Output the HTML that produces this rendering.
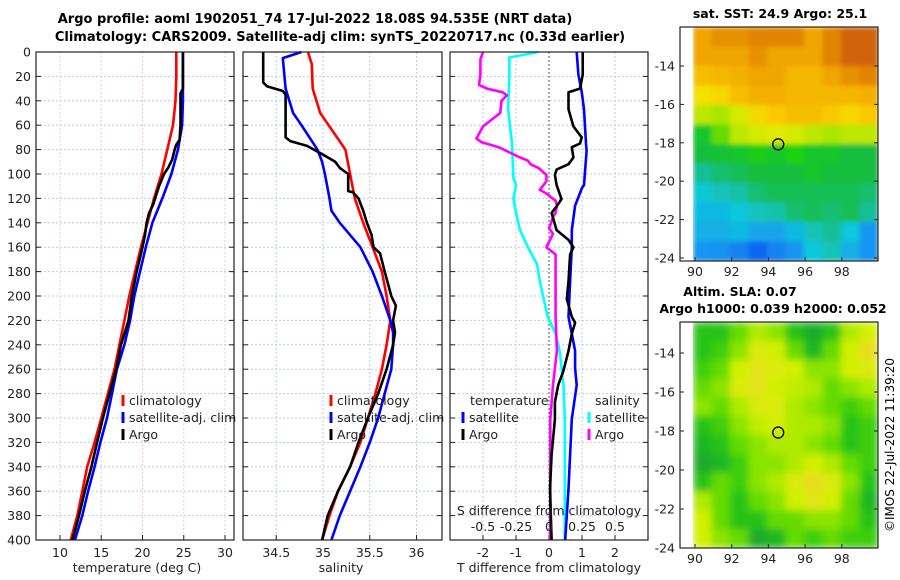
<!DOCTYPE html>
<html><head><meta charset="utf-8">
<style>
body{margin:0;background:#fff;width:900px;height:580px;overflow:hidden}
svg{display:block;font-family:"DejaVu Sans","Liberation Sans",sans-serif}
</style></head>
<body>
<svg id="c" width="900" height="580" viewBox="0 0 900 580">
<defs><filter id="blur" x="0" y="0" width="1" height="1"><feGaussianBlur stdDeviation="4"/></filter>
<filter id="blurA" x="0" y="0" width="1" height="1"><feGaussianBlur stdDeviation="2.5"/></filter>
<clipPath id="clipB"><rect x="693" y="322" width="185" height="226"/></clipPath>
<clipPath id="clipA"><rect x="693" y="27" width="185" height="234"/></clipPath></defs>
<text x="315" y="23" text-anchor="middle" font-size="13" font-weight="bold">Argo profile: aoml 1902051_74 17-Jul-2022 18.08S 94.535E (NRT data)</text>
<text x="340" y="41" text-anchor="middle" font-size="13" font-weight="bold">Climatology: CARS2009. Satellite-adj clim: synTS_20220717.nc (0.33d earlier)</text>
<text x="780" y="18" text-anchor="middle" font-size="12.5" font-weight="bold">sat. SST: 24.9 Argo: 25.1</text>
<text x="740" y="296" text-anchor="middle" font-size="12.5" font-weight="bold">Altim. SLA: 0.07</text>
<text x="773" y="313" text-anchor="middle" font-size="12.5" font-weight="bold">Argo h1000: 0.039 h2000: 0.052</text>
<text transform="translate(894,445) rotate(-90)" text-anchor="middle" font-size="12">©IMOS 22-Jul-2022 11:39:20</text>
<g id="g"></g>
</svg>
<script>
// ---- profile data ----
const depthStd=[0,20,40,60,80,100,120,140,160,180,200,220,240,260,280,300,320,340,360,380,400];
const tempClim=[24.1,24.1,24.0,23.7,23.0,22.3,21.4,20.6,19.8,19.1,18.4,17.8,17.2,16.6,15.8,15.0,14.2,13.3,12.7,12.1,11.3];
const tempSat=[24.9,24.9,24.9,24.8,24.3,23.5,22.4,21.2,20.4,19.7,19.0,18.5,17.8,16.9,16.3,15.7,14.9,14.2,13.4,12.7,11.8];
const depthArgo=[0,10,20,30,34,40,60,72,76,80,88,95,100,110,125,132,140,150,160,180,200,220,240,260,280,300,320,340,360,380,400];
const tempArgo=[24.9,24.9,24.9,24.9,24.6,24.6,24.6,24.5,24.1,23.9,23.6,23.1,22.6,22.0,21.3,20.8,20.5,20.3,20.0,19.3,18.7,18.3,17.4,16.8,16.0,15.2,14.5,13.8,13.0,12.3,11.5];
const depthSalClim=[0,10,30,50,70,80,100,120,140,160,180,200,220,240,260,280,300,320,340,360,380,400];
const salClim=[34.84,34.88,34.89,34.97,35.15,35.24,35.29,35.34,35.43,35.53,35.63,35.68,35.72,35.68,35.63,35.56,35.48,35.40,35.29,35.16,35.07,34.99];
const depthSalSat=[0,5,30,50,60,80,90,100,120,130,140,160,180,200,220,230,240,260,280,300,320,340,360,380,400];
const salSat=[34.77,34.57,34.60,34.68,34.77,34.94,34.99,35.02,35.07,35.09,35.18,35.40,35.53,35.63,35.72,35.75,35.75,35.73,35.66,35.59,35.50,35.40,35.29,35.18,35.09];
const depthSalArgo=[0,25,28,32,35,70,73,77,85,90,95,100,114,115,120,130,140,150,160,165,180,200,208,220,230,240,260,280,300,320,340,360,380,400];
const salArgo=[34.36,34.36,34.40,34.57,34.60,34.60,34.65,34.83,35.02,35.13,35.18,35.27,35.27,35.32,35.38,35.43,35.47,35.52,35.54,35.61,35.66,35.73,35.78,35.75,35.77,35.75,35.68,35.59,35.48,35.38,35.29,35.16,35.05,34.99];
// difference panel
const depthTSatDiff=[0,18.7,32.6,47,75,81,109,112,126,146,160,188,217,231,245,259,273,301,330,358,400];
const tSatDiff=[0.84,0.89,0.99,1.06,1.12,1.14,1.06,0.99,0.79,0.69,0.69,0.64,0.59,0.69,0.79,0.79,0.84,0.69,0.64,0.59,0.49];
const depthTArgoDiff=[0,18.7,30,33,47,61,70,75,78,86.5,92,96.4,100.7,109,120.5,124.7,132,146,154,160,166,188,202.5,217,222,231,245,262,273,287,301,330,358,400];
const tArgoDiff=[1.02,1.02,0.94,0.59,0.59,0.74,0.99,0.94,0.69,0.74,0.59,0.23,0.18,0.23,0.38,0.28,0.08,0.23,0.59,0.74,0.64,0.59,0.54,0.69,0.79,0.69,0.59,0.43,0.28,0.18,0.18,0.08,0.03,0.08];
const depthSSatDiff=[0,4.5,18.7,47,75,103.5,109,120,132,146,160,174,188,202.5,217,231,245,273,301,400];
const sSatDiff=[-0.08,-0.30,-0.30,-0.31,-0.28,-0.27,-0.25,-0.27,-0.25,-0.22,-0.16,-0.09,-0.07,-0.04,-0.01,0.05,0.08,0.11,0.12,0.12];
const depthSArgoDiff=[0,6,18.7,27,30,33,35.6,40,50,61,71,74,78,86.5,89,92,95,100.7,106,113,116,122,126,132,135,142,144.5,149,160,166,188,217,245,273,301,330,358,400];
const sArgoDiff=[-0.50,-0.52,-0.52,-0.53,-0.47,-0.35,-0.32,-0.36,-0.37,-0.50,-0.55,-0.51,-0.38,-0.22,-0.16,-0.14,-0.08,-0.02,-0.02,-0.07,-0.02,0.05,0.06,0.05,0.03,0.01,0.0,0.03,-0.02,0.05,0.05,0.05,0.06,0.03,0.01,0.01,0.01,0.01];
const depthTicks=[0,20,40,60,80,100,120,140,160,180,200,220,240,260,280,300,320,340,360,380,400];
const tempTicks=[10,15,20,25,30];
const salTicks=[34.5,35,35.5,36];
const tDiffTicks=[-2,-1,0,1,2];
const sDiffTicks=["-0.5","-0.25","0","0.25","0.5"];
const sDiffTickVals=[-0.5,-0.25,0,0.25,0.5];
// ---- map data (rows north→south, cols 90→100E) ----
const sstGrid=[
[.85,.88,.88,.90,.90,.90,.85,.90,.95,.95],
[.85,.85,.85,.88,.85,.85,.85,.90,.95,.95],
[.78,.80,.82,.85,.85,.80,.80,.85,.88,.90],
[.70,.72,.78,.82,.82,.80,.80,.80,.80,.82],
[.62,.60,.65,.72,.75,.78,.78,.75,.72,.75],
[.45,.55,.62,.65,.66,.65,.62,.60,.62,.62],
[.42,.43,.45,.48,.45,.50,.45,.45,.42,.42],
[.35,.38,.40,.42,.42,.42,.45,.42,.42,.42],
[.26,.30,.33,.38,.40,.40,.40,.40,.40,.38],
[.22,.22,.25,.30,.32,.38,.40,.38,.40,.35],
[.20,.20,.22,.18,.18,.22,.30,.35,.25,.15],
[.15,.14,.10,.03,.10,.15,.25,.30,.20,.15]];
const slaGrid=[
[.30,.30,.50,.70,.60,.30,.10,.30,.70,.80],
[.30,.40,.60,.85,.80,.50,.20,.50,.80,.95],
[.40,.50,.80,.90,.85,.80,.60,.60,.80,.85],
[.50,.60,.85,.90,.80,.75,.70,.50,.60,.70],
[.60,.50,.70,.85,.85,.70,.60,.50,.40,.50],
[.30,.40,.60,.75,.80,.70,.70,.60,.30,.40],
[.20,.30,.50,.60,.70,.70,.60,.50,.30,.40],
[.10,.20,.40,.60,.60,.70,.80,.70,.50,.40],
[.30,.50,.40,.60,.70,.85,.95,.85,.60,.30],
[.70,.50,.30,.50,.60,.80,.90,.80,.50,.20],
[.80,.50,.30,.30,.50,.50,.60,.60,.50,.30],
[.80,.60,.50,.10,.20,.50,.40,.50,.40,.40]];
const lonTicks=[90,92,94,96,98];
const latTicks=[-14,-16,-18,-20,-22,-24];
const argoLon=94.535, argoLat=-18.08;

const NS="http://www.w3.org/2000/svg";
const G=document.getElementById('g');
function mk(tag,attrs,parent){const e=document.createElementNS(NS,tag);for(const k in attrs)e.setAttribute(k,attrs[k]);(parent||G).appendChild(e);return e;}
const yD=d=>52+d*1.22;
const panels=[
 {x0:36,x1:234,sx:v=>60+(v-10)*8.25},
 {x0:243,x1:442,sx:v=>323+(v-35)*93.5},
 {x0:450,x1:648,sx:v=>549+v*33}];
const sxS=v=>549+v*132;

function line(ds,vs,sx,color,name){
  let p='';for(let i=0;i<ds.length;i++)p+=(i?'L':'M')+sx(vs[i]).toFixed(1)+','+yD(ds[i]).toFixed(1);
  const e=mk('path',{d:p,fill:'none',stroke:color,'stroke-width':2.6,'stroke-linejoin':'round'});
  
  
}
// grids and frames
panels.forEach((P,pi)=>{
  const gr=mk('g',{});
  
  
  depthTicks.forEach(d=>{if(d>0&&d<400)mk('line',{x1:P.x0,x2:P.x1,y1:yD(d),y2:yD(d),stroke:'#c0c8ec','stroke-width':1,'stroke-dasharray':'2,2'},gr);});
  const vt=pi==0?tempTicks:pi==1?salTicks:tDiffTicks;
  vt.forEach(v=>{const x=P.sx(v);mk('line',{x1:x,x2:x,y1:52,y2:540,stroke:pi==0?'#ecd0c0':'#c0c8ec','stroke-width':1,'stroke-dasharray':'2,2'},gr);
    mk('line',{x1:x,x2:x,y1:540,y2:535,stroke:'#222'},gr);});
  depthTicks.forEach(d=>{mk('line',{x1:P.x0,x2:P.x0+5,y1:yD(d),y2:yD(d),stroke:'#222'},gr);mk('line',{x1:P.x1,x2:P.x1-5,y1:yD(d),y2:yD(d),stroke:'#222'},gr);});
});
// depth labels
depthTicks.forEach(d=>{const t=mk('text',{x:31,y:yD(d)+4.5,'text-anchor':'end','font-size':12.5,fill:'#222'});t.textContent=d;
  
  });
// x labels
tempTicks.forEach(v=>{const t=mk('text',{x:panels[0].sx(v),y:557,'text-anchor':'middle','font-size':12.5,fill:'#222'});t.textContent=v;
  
  });
salTicks.forEach(v=>{const t=mk('text',{x:panels[1].sx(v),y:557,'text-anchor':'middle','font-size':12.5,fill:'#222'});t.textContent=v;
  
  });
tDiffTicks.forEach(v=>{const t=mk('text',{x:panels[2].sx(v),y:557,'text-anchor':'middle','font-size':12.5,fill:'#222'});t.textContent=v;
  
  });
function txt(x,y,s,name,anchor){const t=mk('text',{x:x,y:y,'text-anchor':anchor||'middle','font-size':12.5,fill:'#222'});t.textContent=s;
  
  return t;}
txt(137,572,'temperature (deg C)','x-axis-title-temperature');
txt(341,572,'salinity','x-axis-title-salinity');
txt(549,572,'T difference from climatology','x-axis-title-tdiff');
// zero line panel 3
mk('line',{x1:549,x2:549,y1:52,y2:540,stroke:'#333','stroke-dasharray':'1.5,2.5'});
// series
line(depthStd,tempClim,panels[0].sx,'#ff0000','temp-climatology-line');
line(depthStd,tempSat,panels[0].sx,'#0000ff','temp-satellite-line');
line(depthArgo,tempArgo,panels[0].sx,'#000','temp-argo-line');
line(depthSalClim,salClim,panels[1].sx,'#ff0000','sal-climatology-line');
line(depthSalSat,salSat,panels[1].sx,'#0000ff','sal-satellite-line');
line(depthSalArgo,salArgo,panels[1].sx,'#000','sal-argo-line');
line(depthSSatDiff,sSatDiff,sxS,'#00ffff','sdiff-satellite-line');
line(depthSArgoDiff,sArgoDiff,sxS,'#ff00ff','sdiff-argo-line');
line(depthTSatDiff,tSatDiff,panels[2].sx,'#0000ff','tdiff-satellite-line');
line(depthTArgoDiff,tArgoDiff,panels[2].sx,'#000','tdiff-argo-line');
// S diff axis labels
txt(549,515,'S difference from climatology','s-diff-axis-title');
sDiffTickVals.forEach((v,i)=>{txt(sxS(v),531,sDiffTicks[i],'sdiff-tick-label');});
// frames
panels.forEach((P,pi)=>{const r=mk('rect',{x:P.x0,y:52,width:P.x1-P.x0,height:488,fill:'none',stroke:'#222','stroke-width':1.2});
  
  });
// legends
function legItem(x,y,color,label,name){mk('rect',{x:x-1.5,y:y-10,width:3,height:11,fill:color});txt(x+6,y,label,name,'start');}
legItem(123,405,'#ff0000','climatology','legend-climatology');
legItem(123,422,'#0000ff','satellite-adj. clim','legend-satellite');
legItem(123,439,'#000','Argo','legend-argo');
legItem(331,405,'#ff0000','climatology','legend-climatology-2');
legItem(331,422,'#0000ff','satellite-adj. clim','legend-satellite-2');
legItem(331,439,'#000','Argo','legend-argo-2');
txt(470,405,'temperature','legend-temperature-heading','start');
legItem(463,422,'#0000ff','satellite','legend-t-satellite');
legItem(463,439,'#000','Argo','legend-t-argo');
txt(595,405,'salinity','legend-salinity-heading','start');
legItem(589,422,'#00ffff','satellite','legend-s-satellite');
legItem(589,439,'#ff00ff','Argo','legend-s-argo');

// ---- maps ----
function interp(stops,v){v=Math.max(0,Math.min(1,v));for(let i=1;i<stops.length;i++){if(v<=stops[i][0]){const a=stops[i-1],b=stops[i],t=(v-a[0])/(b[0]-a[0]||1);
  const c=[0,1,2].map(k=>Math.round(a[1][k]+(b[1][k]-a[1][k])*t));return 'rgb('+c.join(',')+')';}}return 'rgb('+stops[stops.length-1][1].join(',')+')';}
const sstStops=[[0,[16,90,240]],[0.15,[20,150,240]],[0.25,[16,200,220]],[0.35,[20,190,150]],[0.42,[20,190,60]],[0.5,[30,210,10]],[0.6,[170,230,0]],[0.68,[240,235,0]],[0.75,[250,200,0]],[0.85,[240,165,0]],[0.95,[210,100,10]],[1,[200,90,10]]];
const slaStops=[[0,[20,160,50]],[0.35,[40,200,20]],[0.55,[120,225,0]],[0.8,[210,240,0]],[1,[240,215,40]]];
function drawMap(grid,stops,x0,y0,w,h,name,filt,clip){
  const g=mk('g',{filter:filt,'clip-path':clip});
  
  
  const R=grid.length,C=grid[0].length,cw=w/C,ch=h/R;
  grid.forEach((row,r)=>row.forEach((v,c)=>{const e=mk('rect',{x:x0+c*cw,y:y0+r*ch,width:cw+0.6,height:ch+0.6,fill:interp(stops,v)},g);
    
    }));
}
function mapAxes(fy,yTop,yBot,labY,pre){
  const f=mk('rect',{x:680,y:yTop,width:198,height:yBot-yTop,fill:'none',stroke:'#222','stroke-width':1.2});
  
  
  latTicks.forEach(l=>{const y=fy(l);mk('line',{x1:680,x2:684,y1:y,y2:y,stroke:'#222'});mk('line',{x1:878,x2:874,y1:y,y2:y,stroke:'#222'});
    txt(675,y+4.5,l,pre+'-lat-label','end');});
  lonTicks.forEach(l=>{const x=695+(l-90)*18.35;mk('line',{x1:x,x2:x,y1:yBot,y2:yBot-4,stroke:'#222'});txt(x,labY,l,pre+'-lon-label');});
  const cx=695+(argoLon-90)*18.35;
  const c=mk('circle',{cx:cx,cy:fy(argoLat),r:5.5,fill:'none',stroke:'#000','stroke-width':1.3});
  
  
}
drawMap(sstGrid,sstStops,693,27,185,234,'sst-map-cells','url(#blurA)','url(#clipA)');
mapAxes(l=>66+(-14-l)*19.2,27,261,276,'sst');
drawMap(slaGrid,slaStops,693,322,185,226,'sla-map-cells','url(#blur)','url(#clipB)');
mapAxes(l=>353+(-14-l)*19.5,322,548,563,'sla');
</script>
</body></html>
